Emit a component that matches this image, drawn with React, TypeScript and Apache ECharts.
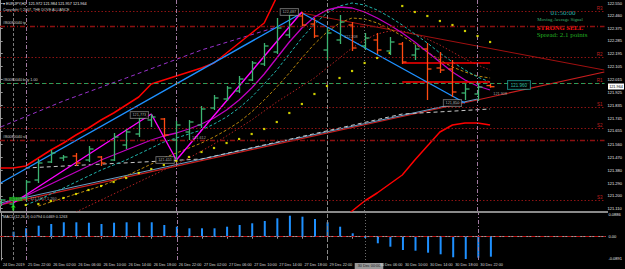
import React, { useEffect, useRef } from "react";
import * as echarts from "echarts";

// ---------- data ----------
// OHLC per H2 bar: [open, high, low, close]
const ohlc: number[][] = [
  [121.150, 121.178, 121.129, 121.171],
  [121.143, 121.199, 121.122, 121.178],
  [121.185, 121.311, 121.164, 121.297],
  [121.311, 121.458, 121.290, 121.430],
  [121.437, 121.521, 121.430, 121.500],
  [121.465, 121.486, 121.444, 121.472],
  [121.479, 121.500, 121.409, 121.430],
  [121.451, 121.549, 121.437, 121.528],
  [121.472, 121.479, 121.409, 121.430],
  [121.451, 121.640, 121.444, 121.612],
  [121.556, 121.668, 121.528, 121.647],
  [121.633, 121.766, 121.612, 121.745],
  [121.731, 121.773, 121.682, 121.752],
  [121.738, 121.745, 121.612, 121.626],
  [121.591, 121.724, 121.451, 121.696],
  [121.647, 121.731, 121.591, 121.717],
  [121.696, 121.829, 121.675, 121.808],
  [121.815, 121.906, 121.801, 121.885],
  [121.878, 121.969, 121.864, 121.955],
  [121.934, 122.039, 121.920, 122.018],
  [122.011, 122.144, 122.004, 122.130],
  [122.123, 122.270, 122.109, 122.249],
  [122.207, 122.445, 122.193, 122.375],
  [122.326, 122.480, 122.305, 122.466],
  [122.459, 122.487, 122.389, 122.396],
  [122.403, 122.445, 122.305, 122.319],
  [122.221, 122.375, 122.151, 122.340],
  [122.291, 122.466, 122.263, 122.417],
  [122.396, 122.417, 122.214, 122.235],
  [122.249, 122.340, 122.221, 122.305],
  [122.291, 122.340, 122.193, 122.221],
  [122.214, 122.312, 122.186, 122.277],
  [122.263, 122.277, 122.123, 122.137],
  [122.186, 122.256, 122.151, 122.228],
  [122.228, 122.270, 121.871, 122.088],
  [122.095, 122.207, 122.060, 122.081],
  [122.088, 122.151, 121.892, 121.927],
  [121.920, 121.983, 121.871, 121.948],
  [121.913, 121.990, 121.864, 121.962],
  [121.972, 121.984, 121.957, 121.964],
];

const timeLabelBars = [0, 2, 4, 6, 8, 10, 12, 14, 16, 18, 20, 22, 24, 26, 28, 30, 32, 34, 36, 38];
const timeLabels = [
  "24 Dec 2019", "25 Dec 22:00", "26 Dec 02:00", "26 Dec 06:00", "26 Dec 10:00",
  "26 Dec 14:00", "26 Dec 18:00", "26 Dec 22:00", "27 Dec 02:00", "27 Dec 06:00",
  "27 Dec 10:00", "27 Dec 14:00", "27 Dec 18:00", "29 Dec 22:00", "30 Dec 00:00",
  "30 Dec 06:00", "30 Dec 10:00", "30 Dec 14:00", "30 Dec 18:00", "30 Dec 22:00",
];
const highlightTimeBar = 28;

const priceTicks = [
  122.550, 122.460, 122.375, 122.285, 122.195, 122.105, 122.015, 121.925, 121.835,
  121.745, 121.655, 121.560, 121.470, 121.380, 121.290, 121.200, 121.110,
];
const macdTicks = [0.0886, 0, -0.0891];
const macdTickText = ["0.0886", "0.00", "-0.0891"];

const macdHist: (number | null)[] = [
  null, 0.0204, 0.0343, 0.0449, 0.0518, 0.0588, 0.0588, 0.0571, 0.0518, 0.0571,
  0.0588, 0.0588, 0.0588, 0.0477, 0.0408, 0.0343, 0.0343, 0.0343, 0.0408, 0.0477,
  0.0547, 0.0641, 0.0751, 0.0857, 0.0816, 0.0722, 0.0588, 0.0408, 0.0139, -0.0053,
  -0.0269, -0.0408, -0.0543, -0.0571, -0.0653, -0.0718, -0.0840, -0.0910, -0.0857, -0.0816,
];

const sar: (number | null)[] = [
  null, null, 121.136, 121.143, 121.164, 121.185, 121.213, 121.241, 121.269, 121.297,
  121.325, 121.360, 121.388, 121.416, 121.444, 121.472, 121.507, 121.535, 121.570, 121.598,
  121.633, 121.668, 121.717, 121.780, 121.843, 121.913, 121.969, 122.025, 122.074, 122.130,
  122.165, 122.200, 122.529, 122.487, 122.459, 122.424, 122.396, 122.354, 122.319, 122.277,
];

const violetMA: (number | null)[] = [
  121.136, 121.171, 121.199, 121.241, 121.283, 121.325, 121.367, 121.409, 121.451, 121.486,
  121.521, 121.556, 121.591, 121.619, 121.640, 121.668, 121.703, 121.745, 121.801, 121.871,
  121.955, 122.053, 122.165, 122.277, 122.375, 122.452, 122.501, 122.522, 122.515, 122.487,
  122.445, 122.396, 122.340, 122.277, 122.207, 122.137, 122.067, 122.011, 121.969, 121.941,
];
const tealMA: (number | null)[] = [
  null, null, 121.136, 121.171, 121.213, 121.255, 121.297, 121.339, 121.381, 121.416,
  121.451, 121.493, 121.535, 121.577, 121.605, 121.633, 121.661, 121.703, 121.752, 121.815,
  121.892, 121.983, 122.081, 122.193, 122.305, 122.403, 122.480, 122.529, 122.550, 122.536,
  122.501, 122.452, 122.396, 122.333, 122.270, 122.200, 122.137, 122.081, 122.032, 121.997,
];
const oliveMA: (number | null)[] = [
  null, null, null, 121.129, 121.157, 121.185, 121.213, 121.241, 121.269, 121.304,
  121.339, 121.381, 121.423, 121.465, 121.500, 121.535, 121.570, 121.612, 121.661, 121.717,
  121.787, 121.871, 121.962, 122.060, 122.165, 122.263, 122.347, 122.410, 122.445, 122.438,
  122.410, 122.368, 122.319, 122.263, 122.207, 122.151, 122.102, 122.067, 122.039, 122.025,
];
const darkRedMA: (number | null)[] = [
  null, null, null, null, null, null, 121.087, 121.129, 121.171, 121.213,
  121.255, 121.297, 121.339, 121.381, 121.423, 121.465, 121.514, 121.563, 121.619, 121.675,
  121.731, 121.794, 121.857, 121.913, 121.969, 122.025, 122.095, 122.165, 122.235, 122.291,
  122.333, 122.354, 122.354, 122.333, 122.298, 122.256, 122.207, 122.158, 122.116, 122.081,
];
const redUpper: (number | null)[] = [
  121.395, 121.395, 121.409, 121.465, 121.521, 121.570, 121.626, 121.675, 121.731, 121.780,
  121.836, 121.892, 121.983, 122.011, 122.039, 122.067, 122.095, 122.130, 122.200, 122.270,
  122.340, 122.410, 122.592, 122.781, null, null, null, null, null, null,
  null, null, null, null, null, null, null, null, null, null,
];
const redLower: (number | null)[] = [
  null, null, null, null, null, null, null, null, null, null,
  null, null, null, null, null, null, null, null, null, null,
  null, null, null, null, null, null, null, 121.017, 121.094, 121.164,
  121.220, 121.283, 121.346, 121.451, 121.549, 121.647, 121.696, 121.710, 121.710, 121.696,
];

// vertex lines: [barIndex, price]
const blueZigzag = [[0, 121.290], [24, 122.480], [37, 121.850]];
const magentaZigzag = [[1, 121.150], [12, 121.773], [14, 121.451], [24, 122.487]];
const purpleTrend = [[0, 121.682], [5, 121.864], [10, 122.025], [16, 122.221], [22, 122.382]];
const redTrend = [[-0.06, 121.136], [48.1, 122.067]];
const steelTrend = [[-0.06, 121.150], [38, 121.878]];
const grayTrend = [[2, 121.395], [16, 121.458], [32, 121.773], [39, 121.808]];
const channelLine = [[24, 122.480], [48.1, 122.081]];
const redBoxTop = [[32, 122.130], [39, 122.130]];
const redBoxBottom = [[32, 121.997], [39, 121.997]];

const pivotLevels = [122.487, 122.172, 121.990, 121.822, 121.668, 121.171];
const pivotNames = ["R3", "R2", "R1", "S1", "S2", "S3"];
const orderLevels = [122.389, 121.990, 121.591];
const orderNames = ["#80080040 tp", "#80080040 buy 1.00", "#80080040 sl"];

const vLineBars = [1, 2, 14, 26, 29, 38];

// annotation labels: [bar, price, text]
const boxLabels: [number, number, string][] = [
  [11.05, 121.766, "121.773"],
  [13.1, 121.451, "121.451"],
  [23.0, 122.487, "122.487"],
  [36.0, 121.850, "121.850"],
];
const plainLabels: [number, number, string][] = [
  [15.8, 121.605, "121.612"],
  [27.9, 122.312, "122.208"],
  [39.8, 121.913, "121.908"],
  [3.4, 121.178, "121.1057 1.260"],
];
const cyanLabel: [number, number, string][] = [[41.3, 121.976, "121.960"]];
const greenLabel: [number, number, string][] = [[1.2, 121.178, "121.15"]];
const buyArrows = [[1, 121.118]];

// ---------- styles ----------
const BULL = "#3CB371";
const BEAR = "#FF4A12";
const SANS = "Liberation Sans";
const SERIF = "Liberation Serif";
const X_MIN = -0.0556;
const X_MAX = 48.12;

const vLineStyles = [
  { color: "#7a7a7a", type: [3, 2] },
  { color: "#a07aa0", type: [4, 2, 1, 2] },
  { color: "#a07aa0", type: [4, 2, 1, 2] },
  { color: "#8a8a8a", type: [4, 2] },
  { color: "#6a6a6a", type: [1, 2] },
  { color: "#a07aa0", type: [4, 2, 1, 2] },
];

const perBar = (arr: (number | null)[]) =>
  arr.map((v, i) => [i, v]).filter((d) => d[1] !== null);

const line = (data: any[], color: string, width: number, type: any, z = 3) => ({
  type: "line",
  xAxisIndex: 0,
  yAxisIndex: 0,
  data,
  showSymbol: false,
  symbol: "none",
  silent: true,
  clip: true,
  z,
  lineStyle: { color, width, type },
});

function buildOption(): any {
  const series: any[] = [];

  // levels (pivots, order lines, vertical lines)
  series.push({
    type: "line",
    xAxisIndex: 0,
    yAxisIndex: 0,
    data: [],
    silent: true,
    z: 1,
    markLine: {
      silent: true,
      symbol: "none",
      animation: false,
      label: { show: false },
      data: [
        ...pivotLevels.map((v, i) => ({
          yAxis: v,
          lineStyle: { color: "#B01818", width: 0.8, type: [1.5, 2] },
          label: {
            show: true,
            position: "insideEndTop",
            formatter: pivotNames[i],
            color: "#C02020",
            fontSize: 4.5,
            fontFamily: SANS,
            distance: [2, 0.5],
          },
        })),
        ...orderLevels.map((v, i) => ({
          yAxis: v,
          lineStyle: i === 1
            ? { color: "#2E9B57", width: 1, type: [4, 3] }
            : { color: "#8B1010", width: 1.3, type: [5, 2, 1, 2] },
          label: {
            show: true,
            position: "insideStartTop",
            formatter: orderNames[i],
            color: "#cfcfcf",
            fontSize: 3.8,
            fontFamily: SANS,
            distance: [3, 1],
          },
        })),
        ...vLineBars.map((b, i) => ({
          xAxis: b,
          lineStyle: { color: vLineStyles[i].color, width: 1, type: vLineStyles[i].type },
        })),
      ],
    },
  });

  series.push(line(purpleTrend, "#9932CC", 1, [4, 3]));
  series.push(line(redTrend, "#C81E1E", 1.2, "solid"));
  series.push(line(steelTrend, "#6A9FC8", 1, "solid"));
  series.push(line(grayTrend, "#C8C8C8", 1, [4, 3]));
  series.push(line(channelLine, "#A01010", 1, "solid"));
  series.push(line(perBar(darkRedMA), "#B22222", 1, [1.5, 2]));
  series.push(line(perBar(oliveMA), "#B8860B", 1, [3, 2]));
  series.push(line(perBar(tealMA), "#20B2AA", 1, [3, 2]));
  series.push(line(perBar(violetMA), "#C000C0", 1.3, "solid"));
  series.push(line(perBar(redUpper), "#FF0000", 1.5, "solid"));
  series.push(line(perBar(redLower), "#FF0000", 1.5, "solid"));
  series.push(line(redBoxTop, "#FF0000", 1.3, "solid"));
  series.push(line(redBoxBottom, "#FF0000", 1.3, "solid"));
  series.push(line(blueZigzag, "#1E90FF", 1.4, "solid", 4));
  series.push(line(magentaZigzag, "#FF00FF", 1.4, "solid", 4));

  // parabolic SAR
  series.push({
    type: "scatter",
    xAxisIndex: 0,
    yAxisIndex: 0,
    data: perBar(sar),
    symbol: "rect",
    symbolSize: 2.2,
    itemStyle: { color: "#FFFF00" },
    silent: true,
    z: 5,
  });

  // OHLC bars
  series.push({
    type: "custom",
    xAxisIndex: 0,
    yAxisIndex: 0,
    z: 6,
    clip: true,
    silent: true,
    data: ohlc.map((d, i) => [i, d[0], d[1], d[2], d[3]]),
    encode: { x: 0, y: [1, 2, 3, 4] },
    renderItem: (_p: any, api: any) => {
      const i = api.value(0);
      const o = api.value(1), h = api.value(2), l = api.value(3), c = api.value(4);
      const ph = api.coord([i, h]);
      const pl = api.coord([i, l]);
      const po = api.coord([i, o]);
      const pc = api.coord([i, c]);
      const x = Math.round(ph[0]) + 0.5;
      const st = { stroke: c >= o ? BULL : BEAR, lineWidth: 1.3 };
      return {
        type: "group",
        children: [
          { type: "line", shape: { x1: x, y1: ph[1], x2: x, y2: pl[1] }, style: st },
          { type: "line", shape: { x1: x - 4, y1: po[1], x2: x, y2: po[1] }, style: st },
          { type: "line", shape: { x1: x, y1: pc[1], x2: x + 4, y2: pc[1] }, style: st },
        ],
      };
    },
  });

  const labelSeries = (data: any[], label: any) => ({
    type: "scatter",
    xAxisIndex: 0,
    yAxisIndex: 0,
    data,
    symbolSize: 0,
    silent: true,
    z: 8,
    label: {
      show: true,
      position: "inside",
      formatter: (p: any) => p.data[2],
      fontFamily: SANS,
      fontSize: 3.8,
      ...label,
    },
  });
  series.push(labelSeries(boxLabels, {
    color: "#d8d8d8", backgroundColor: "#000", borderColor: "#9a9a9a", borderWidth: 0.7, padding: [1, 2],
  }));
  series.push(labelSeries(plainLabels, { color: "#c8c8c8" }));
  series.push(labelSeries(cyanLabel, {
    color: "#40E0D0", backgroundColor: "#000", borderColor: "#20B2AA", borderWidth: 0.8, padding: [1.5, 3], fontSize: 4.5,
  }));
  series.push(labelSeries(greenLabel, {
    color: "#003000", backgroundColor: "#22C022", padding: [0.5, 2], fontSize: 3,
  }));
  series.push({
    type: "scatter",
    xAxisIndex: 0,
    yAxisIndex: 0,
    data: buyArrows,
    symbol: "path://M5,0 L10,5 L7,5 L7,10 L3,10 L3,5 L0,5 Z",
    symbolSize: [5, 6],
    itemStyle: { color: "#22FF22" },
    silent: true,
    z: 8,
  });

  // MACD histogram
  series.push({
    type: "bar",
    xAxisIndex: 1,
    yAxisIndex: 1,
    data: perBar(macdHist),
    barWidth: 2,
    itemStyle: { color: "#1E90FF" },
    silent: true,
    markLine: {
      silent: true,
      symbol: "none",
      animation: false,
      label: { show: false },
      data: [
        { yAxis: 0, lineStyle: { color: "#C00000", width: 0.9, type: [4, 2, 1, 2] } },
        ...vLineBars.map((b, i) => ({
          xAxis: b,
          lineStyle: { color: vLineStyles[i].color, width: 1, type: vLineStyles[i].type },
        })),
      ],
    },
  });

  return {
    animation: false,
    backgroundColor: "#000000",
    grid: [
      { left: 0, top: 0, width: 607, height: 211 },
      { left: 0, top: 213, width: 607, height: 47 },
    ],
    xAxis: [
      {
        type: "value", gridIndex: 0, min: X_MIN, max: X_MAX,
        axisLine: { show: false }, axisTick: { show: false }, axisLabel: { show: false }, splitLine: { show: false },
      },
      {
        type: "value", gridIndex: 1, min: X_MIN, max: X_MAX,
        axisLine: { show: true, lineStyle: { color: "#9a9a9a", width: 1 } },
        axisTick: { show: true, customValues: timeLabelBars, length: 2, lineStyle: { color: "#9a9a9a" } },
        axisLabel: {
          show: true,
          customValues: timeLabelBars,
          formatter: (v: number) => {
            const idx = timeLabelBars.indexOf(Math.round(v));
            const t = idx >= 0 ? timeLabels[idx] : "";
            return Math.round(v) === highlightTimeBar ? `{hl|${t}}` : t;
          },
          color: "#d8d8d8",
          fontSize: 3.8,
          fontFamily: SANS,
          align: "left",
          margin: 3,
          padding: [0, 0, 0, 2],
          rich: {
            hl: { backgroundColor: "#9a9a9a", color: "#202020", fontSize: 3.8, fontFamily: SANS, padding: [1, 3] },
          },
        },
        splitLine: { show: false },
      },
    ],
    yAxis: [
      {
        type: "value", gridIndex: 0, position: "right", min: 121.094, max: 122.571,
        axisLine: { show: true, lineStyle: { color: "#9a9a9a", width: 1 } },
        axisTick: { show: true, customValues: priceTicks, length: 2, lineStyle: { color: "#9a9a9a" } },
        axisLabel: {
          show: true, customValues: priceTicks, formatter: (v: number) => v.toFixed(3),
          color: "#e8e8e8", fontSize: 4, fontFamily: SANS, margin: 3,
        },
        splitLine: { show: false },
      },
      {
        type: "value", gridIndex: 1, position: "right", min: -0.0951, max: 0.0967,
        axisLine: { show: true, lineStyle: { color: "#9a9a9a", width: 1 } },
        axisTick: { show: true, customValues: macdTicks, length: 2, lineStyle: { color: "#9a9a9a" } },
        axisLabel: {
          show: true, customValues: macdTicks,
          formatter: (v: number) => {
            const idx = macdTicks.findIndex((t) => Math.abs(t - v) < 1e-6);
            return idx >= 0 ? macdTickText[idx] : "";
          },
          color: "#e8e8e8", fontSize: 4, fontFamily: SANS, margin: 3,
        },
        splitLine: { show: false },
      },
    ],
    graphic: [
      { type: "rect", shape: { x: 0, y: 211, width: 608, height: 2 }, style: { fill: "#8a8a8a" }, silent: true },
      {
        type: "text", style: {
          text: "▾ EURJPY,H2  121.972 121.984 121.957 121.964", x: 3, y: 4,
          fill: "#e8e8e8", font: `3.8px "${SANS}"`, verticalAlign: "middle",
        },
      },
      {
        type: "text", style: {
          text: "Copyright © 2007, THE DOVE ALLIANCE", x: 3, y: 9.5,
          fill: "#d0d0d0", font: `3.6px "${SANS}"`, verticalAlign: "middle",
        },
      },
      {
        type: "text", style: {
          text: "MACD(12,26,9) 0.0794 0.0469 0.1263", x: 3, y: 216.5,
          fill: "#d8d8d8", font: `3.8px "${SANS}"`, verticalAlign: "middle",
        },
      },
      {
        type: "text", style: {
          text: "01:50:00", x: 563, y: 13, fill: "#2AB0A8", font: `7px "${SERIF}"`,
          align: "center", verticalAlign: "middle",
        },
      },
      {
        type: "text", style: {
          text: "Moving Average Signal", x: 560, y: 19.5, fill: "#3CB371", font: `4.8px "${SERIF}"`,
          align: "center", verticalAlign: "middle",
        },
      },
      {
        type: "text", style: {
          text: "STRONG SELL", x: 560, y: 27, fill: "#FF1010", font: `bold 6.6px "${SERIF}"`,
          align: "center", verticalAlign: "middle",
        },
      },
      {
        type: "text", style: {
          text: "Spread: 2.1 points", x: 562, y: 35, fill: "#22B022", font: `7px "${SERIF}"`,
          align: "center", verticalAlign: "middle",
        },
      },
      { type: "rect", shape: { x: 608, y: 83.5, width: 16, height: 6 }, style: { fill: "#ffffff" }, silent: true },
      {
        type: "text", style: {
          text: "121.964", x: 616, y: 86.5, fill: "#000", font: `3.8px "${SANS}"`,
          align: "center", verticalAlign: "middle",
        },
      },
    ],
    series,
  };
}

export default function App() {
  const ref = useRef<HTMLDivElement>(null);
  useEffect(() => {
    document.body.style.margin = "0";
    document.body.style.background = "#000";
    const chart = echarts.init(ref.current!, null, { renderer: "svg" });
    chart.setOption(buildOption());
    return () => chart.dispose();
  }, []);
  return (
    <div
      ref={ref}
      style={{ width: 625, height: 269, position: "absolute", left: 0, top: 0, background: "#000" }}
    />
  );
}
